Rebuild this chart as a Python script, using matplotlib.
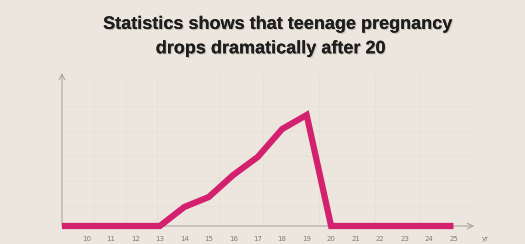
import matplotlib
matplotlib.use("Agg")
import matplotlib.pyplot as plt
import matplotlib.patheffects as pe

BG = "#ece6df"
PINK = "#d4216f"
AXIS = "#a9a6a3"

ages = [9, 10, 11, 12, 13, 14, 15, 16, 17, 18, 19, 20, 21, 22, 23, 24, 25]
rate = [0, 0, 0, 0, 0, 19, 29, 51, 69, 97, 111, 0, 0, 0, 0, 0, 0]
tick_ages = list(range(10, 26))
tick_labels = [str(a) for a in tick_ages]

fig = plt.figure(figsize=(5.25, 2.44), dpi=100, facecolor=BG)
ax = fig.add_axes([62 / 525, 18 / 244, 411 / 525, 151 / 244], facecolor=BG)
ax.set_xlim(9, 25.8)
ax.set_ylim(0, 151)

# faint paper-like grid
for gx in [10.3, 11.6, 12.9, 15.4, 17.2, 19.5, 21.8, 23.6]:
    ax.axvline(gx, color="#e6e0d9", lw=0.7, zorder=0)
for gy in [20, 45, 70, 95, 120]:
    ax.axhline(gy, color="#e6e0d9", lw=0.7, zorder=0)

ax.plot(ages, rate, color=PINK, lw=4.5, solid_joinstyle="miter",
        solid_capstyle="butt", clip_on=False, zorder=3)

for s in ax.spines.values():
    s.set_visible(False)
ax.annotate("", xy=(25.85, 0), xytext=(9, 0), xycoords="data",
            arrowprops=dict(arrowstyle="->", color=AXIS, lw=0.8,
                            shrinkA=0, shrinkB=0), annotation_clip=False, zorder=1)
ax.annotate("", xy=(9, 153), xytext=(9, 0), xycoords="data",
            arrowprops=dict(arrowstyle="->", color=AXIS, lw=0.8,
                            shrinkA=0, shrinkB=0), annotation_clip=False, zorder=1)

ax.set_xticks(tick_ages)
ax.set_xticklabels(tick_labels, fontsize=5, color="#7d7a77")
ax.tick_params(axis="x", length=0, pad=7)
ax.set_yticks([])
ax.text(26.3, -13, "yr", fontsize=5, color="#7d7a77", ha="center", va="center")

shadow = [pe.withSimplePatchShadow(offset=(0.8, -0.8), shadow_rgbFace="#9a9590", alpha=0.5),
          pe.Normal()]
fig.text(0.528, 0.9, "Statistics shows that teenage pregnancy", ha="center", va="center",
         fontsize=13, fontweight="bold", family="Liberation Sans", color="#1e1e1e",
         path_effects=shadow)
fig.text(0.515, 0.8, "drops dramatically after 20", ha="center", va="center",
         fontsize=13, fontweight="bold", family="Liberation Sans", color="#1e1e1e",
         path_effects=shadow)

fig.savefig("out.png", dpi=100, facecolor=BG)
